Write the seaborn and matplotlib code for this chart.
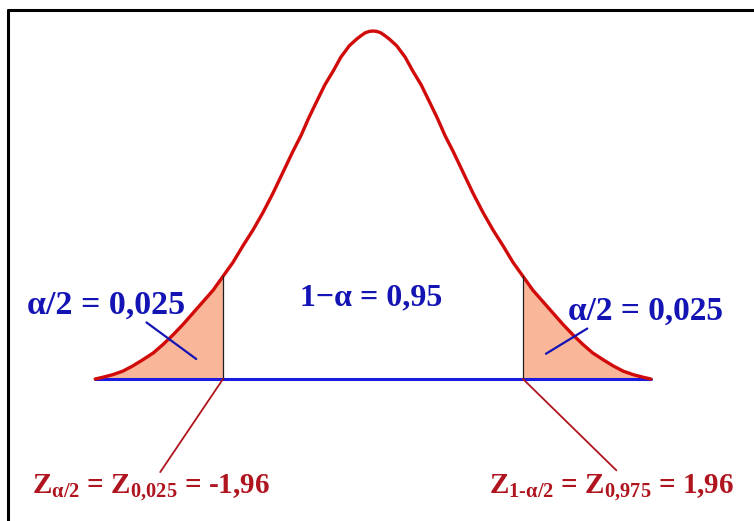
"""
Two-sided confidence interval diagram (alpha = 0.05) drawn with seaborn
"""

import numpy as np
import pandas as pd
import matplotlib.pyplot as plt
import seaborn as sns

sns.set_theme(style='white')
plt.rcParams['font.family'] = ['Liberation Serif', 'DejaVu Serif']
plt.rcParams['mathtext.fontset'] = 'custom'
plt.rcParams['mathtext.rm'] = 'Liberation Serif:bold'
plt.rcParams['mathtext.it'] = 'Liberation Serif:bold'
plt.rcParams['mathtext.bf'] = 'Liberation Serif:bold'
plt.rcParams['mathtext.default'] = 'rm'

# ---- data (right half of the bell, mirrored below) ----
z_half = [0.00, 0.05, 0.10, 0.15, 0.21, 0.26, 0.31, 0.36, 0.42, 0.52, 0.63,
          0.73, 0.84, 0.94, 1.05, 1.18, 1.31, 1.44, 1.57, 1.70, 1.83, 1.96,
          2.09, 2.22, 2.35, 2.48, 2.61, 2.74, 2.87, 3.01, 3.14, 3.27, 3.40,
          3.53, 3.63]
dens_half = [0.400, 0.3995, 0.398, 0.395, 0.391, 0.387, 0.383, 0.377, 0.370,
             0.354, 0.338, 0.320, 0.300, 0.280, 0.261, 0.237, 0.213, 0.191,
             0.171, 0.153, 0.134, 0.118, 0.102, 0.089, 0.076, 0.063, 0.051,
             0.040, 0.030, 0.022, 0.015, 0.009, 0.005, 0.002, 0.000]
z_crit = 1.96
alpha_half_label = 'α/2 = 0,025'
center_label = '1−α = 0,95'
z_left_label = r'Z$_{\alpha/2}$ = Z$_{0{,}025}$ = -1,96'
z_right_label = r'Z$_{1\text{-}\alpha/2}$ = Z$_{0{,}975}$ = 1,96'

z = np.array([-v for v in z_half[::-1]] + z_half[1:])
dens = np.array(dens_half[::-1] + dens_half[1:])
df = pd.DataFrame({'z': z, 'density': dens})

RED = '#D10A0A'
DARKRED = '#B0141E'
BLUE = '#1414B4'
SALMON = '#F9B699'

fig = plt.figure(figsize=(7.54, 5.21), dpi=100)
ax = fig.add_axes([0, 0, 1, 1])

# tails
left = df['z'] <= -z_crit
right = df['z'] >= z_crit
ax.fill_between(df['z'][left], 0, df['density'][left], color=SALMON, lw=0)
ax.fill_between(df['z'][right], 0, df['density'][right], color=SALMON, lw=0)

# baseline and bell curve
sns.lineplot(x=[z.min(), z.max()], y=[0, 0], color='#1a1ae0', lw=2.2, ax=ax)
sns.lineplot(data=df, x='z', y='density', color=RED, lw=2.4, sort=False, ax=ax)

# critical value lines
h_crit = df.loc[df['z'] == z_crit, 'density'].iloc[0]
for zc in (-z_crit, z_crit):
    ax.plot([zc, zc], [0, h_crit], color='#202020', lw=0.9)

# labels
ax.text(-4.52, 0.085, alpha_half_label, color=BLUE, fontsize=24.5,
        fontweight='bold', va='center', ha='left')
ax.text(2.55, 0.078, alpha_half_label, color=BLUE, fontsize=24,
        fontweight='bold', va='center', ha='left')
ax.text(-0.96, 0.093, center_label, color=BLUE, fontsize=23,
        fontweight='bold', va='center', ha='left')

# pointers to the tails
ax.plot([-2.96, -2.31], [0.065, 0.023], color=BLUE, lw=1.6)
ax.plot([2.80, 2.26], [0.058, 0.029], color=BLUE, lw=1.6)

# red z labels and their pointers
ax.text(-4.45, -0.132, z_left_label, color=DARKRED, fontsize=21,
        fontweight='bold', va='baseline', ha='left')
ax.text(1.52, -0.132, z_right_label, color=DARKRED, fontsize=21,
        fontweight='bold', va='baseline', ha='left')
ax.plot([-z_crit, -2.78], [0, -0.107], color=DARKRED, lw=1.3)
ax.plot([z_crit, 3.18], [0, -0.105], color=DARKRED, lw=1.3)

# frame: top and left edges only
ax.plot([8 / 754, 1], [1 - 10 / 521] * 2, color='black', lw=2.2,
        transform=ax.transAxes, clip_on=False)
ax.plot([8 / 754] * 2, [0, 1 - 10 / 521], color='black', lw=2.2,
        transform=ax.transAxes, clip_on=False)

ax.set_xlim(-373 / 76.53, (754 - 373) / 76.53)
ax.set_ylim(-142 / 870, (521 - 142) / 870)
ax.set_axis_off()

plt.savefig('out.png', dpi=100)
plt.close()
